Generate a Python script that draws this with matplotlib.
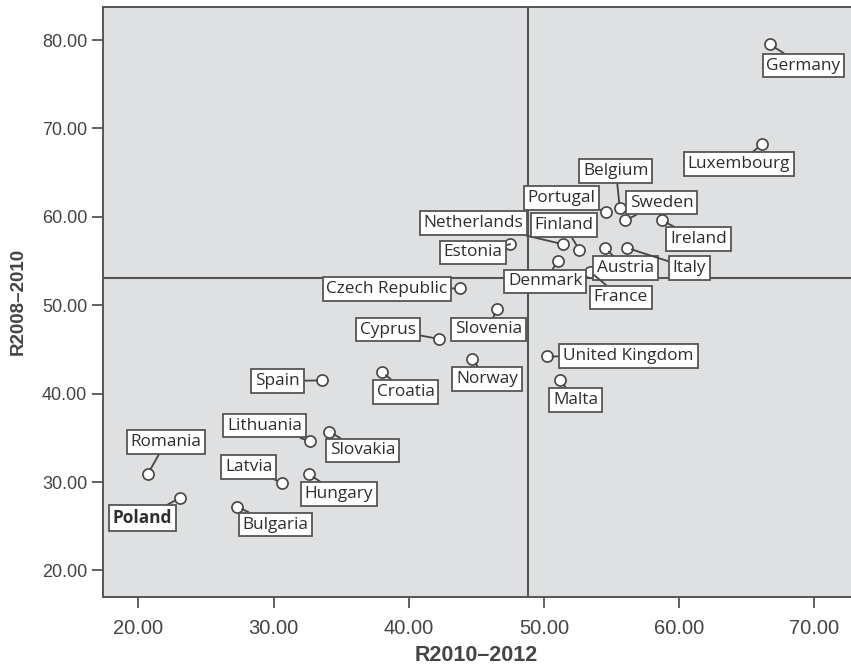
import matplotlib
matplotlib.use("Agg")
import matplotlib.pyplot as plt

countries = ["Germany", "Luxembourg", "Belgium", "Portugal", "Sweden", "Ireland",
             "Netherlands", "Finland", "Austria", "Italy", "Denmark", "France",
             "Estonia", "Czech Republic", "Slovenia", "Cyprus", "Norway", "Croatia",
             "Spain", "Lithuania", "Slovakia", "Romania", "Latvia", "Hungary",
             "Poland", "Bulgaria", "United Kingdom", "Malta"]
r2010_2012 = [66.7, 66.1, 55.6, 54.6, 56.0, 58.7,
              51.4, 52.6, 54.5, 56.1, 51.0, 53.4,
              47.5, 43.8, 46.5, 42.2, 44.7, 38.0,
              33.6, 32.7, 34.1, 20.7, 30.6, 32.6,
              23.1, 27.3, 50.2, 51.2]
r2008_2010 = [79.5, 68.2, 61.0, 60.6, 59.6, 59.6,
              56.9, 56.3, 56.5, 56.5, 55.0, 53.8,
              56.9, 51.9, 49.6, 46.2, 43.9, 42.5,
              41.5, 34.6, 35.7, 30.9, 29.9, 30.9,
              28.2, 27.2, 44.2, 41.5]
# label offsets (pixels) from each point
label_dx = [33.7, -23.2, -3.8, -44.5, 36.3, 36.9,
            -89.5, -15.0, 20.5, 62.8, -12.1, 30.8,
            -37.2, -73.2, -8.1, -50.5, 14.5, 23.8,
            -44.7, -45.5, 33.5, 18.2, -32.8, 30.3,
            -37.8, 38.3, 81.8, 15.3]
label_dy = [-21.2, -19.7, 37.0, 13.4, 17.8, -18.8,
            21.0, 24.3, -20.3, -20.3, -20.3, -25.8,
            -8.2, -0.3, -20.7, 9.1, -19.8, -20.5,
            -0.8, 15.7, -18.8, 32.3, 15.8, -20.0,
            -19.9, -17.8, 0.4, -19.8]
bold_labels = ["Poland"]

x_ref = 48.84
y_ref = 53.1
x_ticks = [20, 30, 40, 50, 60, 70]
y_ticks = [20, 30, 40, 50, 60, 70, 80]

fig = plt.figure(figsize=(8.51, 6.66), dpi=100)
ax = fig.add_axes([102.5 / 851, 1 - 596.5 / 666, 1 - 102.5 / 851, (596.5 - 7.3) / 666])
ax.set_facecolor("#dfe0e2")
ax.set_xlim(17.35, 72.7)
ax.set_ylim(17.05, 83.7)

edge = "#555555"
for name, sp in ax.spines.items():
    sp.set_color(edge)
    sp.set_linewidth(1.4)
ax.spines["right"].set_visible(False)

ax.axvline(x_ref, color=edge, lw=1.5, zorder=1)
ax.axhline(y_ref, color=edge, lw=1.5, zorder=1)

ax.scatter(r2010_2012, r2008_2010, s=8 ** 2, facecolor="white", edgecolor="#444444",
           linewidth=1.2, zorder=4)

for name, x, y, dx, dy in zip(countries, r2010_2012, r2008_2010, label_dx, label_dy):
    ax.annotate(name, xy=(x, y), xytext=(dx, dy), textcoords="offset pixels",
                ha="center", va="center", fontsize=12.4, family="Open Sans",
                fontweight="bold" if name in bold_labels else "normal",
                color="#2e2e2e", zorder=5,
                bbox=dict(boxstyle="square,pad=0.22", fc="white", ec=edge, lw=1.3),
                arrowprops=dict(arrowstyle="-", color="#444444", lw=1.3,
                                shrinkA=0, shrinkB=4))

ax.set_xticks(x_ticks)
ax.set_yticks(y_ticks)
ax.set_xticklabels([f"{v:.2f}" for v in x_ticks], fontsize=14.5, family="Liberation Sans", color="#444444")
ax.set_yticklabels([f"{v:.2f}" for v in y_ticks], fontsize=13, family="Liberation Sans", color="#444444")
ax.tick_params(axis="both", direction="out", length=8, width=1.3, color=edge)
ax.tick_params(axis="x", pad=8)
ax.tick_params(axis="y", pad=3)

ax.set_xlabel("R2010–2012", fontsize=15.5, fontweight="bold", family="Liberation Sans",
              color="#444444", labelpad=5)
ax.set_ylabel("R2008–2010", fontsize=13.5, fontweight="bold", family="Liberation Sans",
              color="#444444", labelpad=11)

fig.savefig("out.png", dpi=100)
